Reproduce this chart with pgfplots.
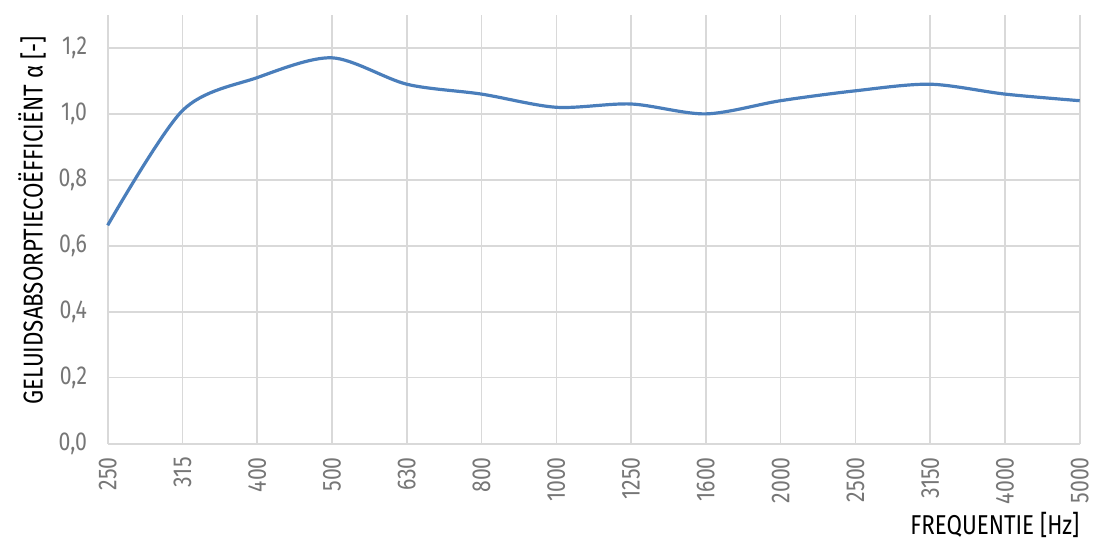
\documentclass[border=0pt]{standalone}
\usepackage{fontspec}
\setmainfont{Fira Sans}[FakeStretch=0.82]
\usepackage{pgfplots}
\pgfplotsset{compat=1.18}
\definecolor{linec}{HTML}{4A7EBB}
\definecolor{gridc}{HTML}{D9D9D9}
\definecolor{tickc}{HTML}{767676}
\begin{document}
\begin{tikzpicture}
\path[use as bounding box] (-81pt,-73.5pt) rectangle (742pt,333.75pt);
\begin{axis}[
  at={(0,0)}, anchor=south west,
  scale only axis,
  width=731.25pt, height=322.5pt,
  xmin=0, xmax=13, ymin=0, ymax=1.3,
  xtick={0,...,13},
  xticklabels={250,315,400,500,630,800,1000,1250,1600,2000,2500,3150,4000,5000},
  ytick={0,0.2,0.4,0.6,0.8,1.0,1.2},
  yticklabel style={/pgf/number format/use comma,/pgf/number format/fixed,/pgf/number format/fixed zerofill,/pgf/number format/precision=1},
  /pgf/number format/assume math mode=true,
  x tick label style={rotate=90, anchor=east, font=\fontsize{19.5}{22}\selectfont, text=tickc, inner xsep=2pt, inner ysep=1pt},
  y tick label style={font=\fontsize{19.5}{22}\selectfont, text=tickc},
  xticklabel shift=8pt,
  yticklabel shift=12pt,
  xmajorgrids, ymajorgrids,
  grid style={gridc, line width=1.2pt},
  axis x line*=bottom, axis y line*=left,
  axis line style={gridc, line width=1.5pt},
  x axis line style={-}, y axis line style={-},
  major tick length=0pt,
  tick style={draw=none},
  clip=false,
]
\addplot[linec, line width=2.4pt, smooth] coordinates {
(0,0.662) (1,1.01) (2,1.11) (3,1.17) (4,1.09) (5,1.06) (6,1.02) (7,1.03) (8,1.00) (9,1.04) (10,1.07) (11,1.09) (12,1.06) (13,1.04)
};
\end{axis}
\node[rotate=90, font=\fontsize{20.5}{24}\selectfont, anchor=center] at (-57pt, 168pt) {GELUIDSABSORPTIECOËFFICIËNT α [-]};
\node[font=\fontsize{20.5}{24}\selectfont, anchor=base east, inner sep=0pt] at (731.25pt, -68.5pt) {FREQUENTIE [Hz]};
\end{tikzpicture}
\end{document}
